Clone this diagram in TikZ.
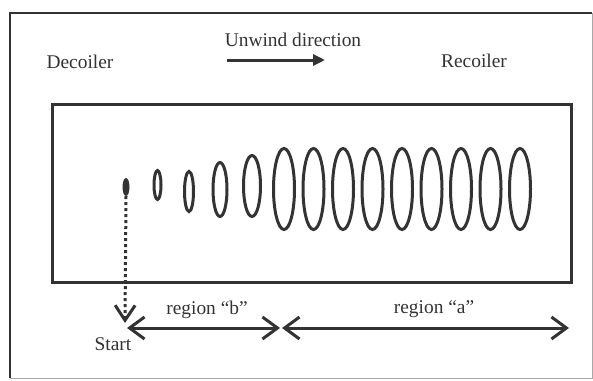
\documentclass[tikz,border=0pt]{standalone}
\usepackage{fontspec}
\setmainfont{Liberation Serif}
\usetikzlibrary{arrows.meta,shapes.geometric}
\definecolor{ink}{HTML}{333333}
\definecolor{framegray}{HTML}{A8A8A8}
\begin{document}
\begin{tikzpicture}[x=1pt,y=-1pt,
  lbl/.style={anchor=base,inner sep=0pt,text=ink,font=\fontsize{19.4}{23}\selectfont},
  coil/.style={ellipse,draw=ink,line width=3pt,inner sep=0pt,outer sep=0pt},
  bigcoil/.style={coil,minimum width=21pt,minimum height=81pt},
  dimarrow/.style={draw=ink,line width=3pt,{Straight Barb[length=15pt,width=22pt]}-{Straight Barb[length=15pt,width=22pt]}},
  flowarrow/.style={draw=ink,line width=3pt,-{Triangle[length=12pt,width=11pt]}},
  startline/.style={draw=ink,line width=3pt,dash pattern=on 3pt off 3pt,-{Straight Barb[length=15pt,width=20pt]}}]
\useasboundingbox (0,0) rectangle (593,380);
\fill[white] (0,0) rectangle (593,380);

% outer frame
\draw[ink,line width=2.5pt] (592,13) -- (10,13) -- (10,378);
\draw[framegray,line width=0.8pt] (10,378) -- (592,378) -- (592,13);

% headings
\node[lbl] (decoiler) at (80,68) {Decoiler};
\node[lbl] (unwind) at (293,46) {Unwind direction};
\node[lbl] (recoiler) at (474,67) {Recoiler};
\coordinate (u0) at (227,60);
\coordinate (u1) at (325,60);
\draw[flowarrow] (u0) -- (u1);

% strip box
\draw[ink,line width=3pt] (52,104) rectangle (571,282);

% coil start and growing coils
\node[ellipse,fill=ink,inner sep=0pt,minimum width=7pt,minimum height=18pt] (startdot) at (126,187) {};
\node[coil,minimum width=7pt,minimum height=29pt] (c1) at (157.5,185) {};
\node[coil,minimum width=9pt,minimum height=40pt] (c2) at (189,191.5) {};
\node[coil,minimum width=14pt,minimum height=54pt] (c3) at (220,189.5) {};
\node[coil,minimum width=17pt,minimum height=61pt] (c4) at (252,186) {};
\foreach \i in {0,...,8}
  \node[bigcoil] (b\i) at (284+29.5*\i,189) {};

% start marker
\coordinate (starttip) at (125,323);
\draw[startline] (startdot.south) -- (starttip);
\node[lbl] (start) at (113,350) {Start};

% regions
\coordinate (rb0) at (127,328);
\coordinate (rb1) at (280,328);
\coordinate (ra0) at (282,328);
\coordinate (ra1) at (569,328);
\draw[dimarrow] (rb0) -- (rb1);
\draw[dimarrow] (ra0) -- (ra1);
\node[lbl] (regb) at (207,314) {region “b”};
\node[lbl] (rega) at (434,313) {region “a”};
\end{tikzpicture}
\end{document}
